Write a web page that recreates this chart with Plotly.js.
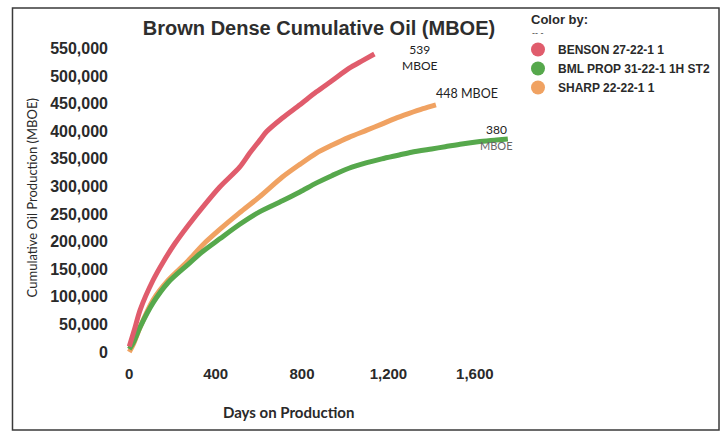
<!DOCTYPE html>
<html>
<head>
<meta charset="utf-8">
<script src="https://cdn.plot.ly/plotly-3.0.1.min.js"></script>
<style>
  html, body { margin: 0; padding: 0; background: #ffffff; }
  #chart { width: 727px; height: 433px; }
</style>
</head>
<body>
<div id="chart"></div>
<script>
// ---- Data ----
const wellNames = ["BENSON 27-22-1 1", "BML PROP 31-22-1 1H ST2", "SHARP 22-22-1 1"];

const bensonDays = [0, 25, 50, 110, 160, 212, 270, 341, 419, 511, 557, 603, 635, 709, 790, 865, 940, 1017, 1080, 1135];
const bensonOil  = [10000, 42000, 76000, 130000, 165000, 197000, 228000, 263000, 299000, 335000, 360000, 383000, 399000, 424000, 448000, 471000, 492000, 514000, 528000, 540000];

const bmlDays = [0, 20, 50, 110, 180, 267, 340, 419, 510, 603, 709, 790, 865, 940, 1017, 1100, 1169, 1250, 1307, 1400, 1463, 1540, 1615, 1700, 1753];
const bmlOil  = [5000, 18000, 45000, 89000, 126000, 157000, 182000, 205000, 231000, 254000, 274000, 290000, 306000, 320000, 333000, 343000, 350000, 357000, 362000, 368000, 372000, 377000, 381000, 384000, 386000];

const sharpDays = [0, 20, 50, 110, 180, 267, 340, 419, 510, 603, 709, 790, 865, 940, 1017, 1100, 1169, 1230, 1293, 1360, 1420];
const sharpOil  = [0, 15000, 45000, 94000, 130000, 163000, 194000, 222000, 252000, 281000, 317000, 340000, 360000, 375000, 389000, 402000, 413000, 423000, 432000, 441000, 448000];

const endLabels = ["539<br>MBOE", "448 MBOE", "380", "MBOE"];

const xTickVals = [0, 400, 800, 1200, 1600];
const yTickVals = [0, 50000, 100000, 150000, 200000, 250000, 300000, 350000, 400000, 450000, 500000, 550000];

const colors = ["#e05c6c", "#56a84c", "#f0a262"];

// ---- Traces ----
const series = [
  {x: bensonDays, y: bensonOil},
  {x: bmlDays, y: bmlOil},
  {x: sharpDays, y: sharpOil}
];

const traces = [];
// draw order: orange, green, red (red on top)
[2, 1, 0].forEach(i => {
  traces.push({
    type: "scatter", mode: "lines",
    x: series[i].x, y: series[i].y,
    line: {color: colors[i], width: 5, shape: "spline", smoothing: 0.8},
    name: wellNames[i], showlegend: false, hoverinfo: "x+y"
  });
});
// legend entries with circle markers
[0, 1, 2].forEach(i => {
  traces.push({
    type: "scatter", mode: "markers",
    x: [null], y: [null],
    marker: {color: colors[i], size: 14, symbol: "circle"},
    name: wellNames[i], showlegend: true
  });
});

// plot area in pixels: x 112..520, y 43..363
const px = v => (v - 112) / 408;
const py = v => (363 - v) / 320;

const layout = {
  width: 727, height: 433,
  margin: {l: 112, r: 207, t: 43, b: 70},
  paper_bgcolor: "#ffffff", plot_bgcolor: "#ffffff",
  showlegend: true,
  title: {
    text: "<b>Brown Dense Cumulative Oil (MBOE)</b>",
    font: {family: "Liberation Sans, Arial, sans-serif", size: 20, color: "#2e2e2e"},
    x: 319 / 727, xanchor: "center", y: 1 - 28 / 433, yanchor: "middle"
  },
  xaxis: {
    range: [-80, 1800],
    tickvals: xTickVals,
    ticktext: xTickVals.map(v => v.toLocaleString("en-US")),
    showgrid: false, zeroline: false, showline: false, ticks: "",
    tickfont: {family: "Liberation Sans, Arial, sans-serif", size: 15, color: "#2a2a2a", weight: "bold"}
  },
  yaxis: {
    range: [-20000, 560000],
    tickvals: yTickVals,
    ticktext: yTickVals.map(v => v.toLocaleString("en-US")),
    showgrid: false, zeroline: false, showline: false, ticks: "",
    ticklabelstandoff: 3,
    tickfont: {family: "Liberation Sans, Arial, sans-serif", size: 16, color: "#2a2a2a", weight: "bold"}
  },
  legend: {
    x: 1.0, xanchor: "left", y: py(35), yanchor: "top",
    font: {family: "Liberation Sans, Arial, sans-serif", size: 12, color: "#2a2a2a", weight: "bold"},
    bgcolor: "rgba(0,0,0,0)", itemwidth: 30, tracegroupgap: 0
  },
  annotations: [
    {x: px(289), y: py(412), xref: "paper", yref: "paper", text: "Days on Production",
     showarrow: false, xanchor: "center", yanchor: "middle",
     font: {family: "Lato, Open Sans, sans-serif", size: 15, color: "#2a2a2a", weight: "bold"}},
    {x: px(32), y: py(198), xref: "paper", yref: "paper", text: "Cumulative Oil Production (MBOE)",
     showarrow: false, xanchor: "center", yanchor: "middle", textangle: -90,
     font: {family: "Lato, Open Sans, sans-serif", size: 13, color: "#2a2a2a"}},
    {x: px(531), y: py(19), xref: "paper", yref: "paper", text: "<b>Color by:</b>",
     showarrow: false, xanchor: "left", yanchor: "middle",
     font: {family: "Liberation Sans, Arial, sans-serif", size: 13, color: "#2a2a2a"}},
    {x: px(532), y: py(33), xref: "paper", yref: "paper", text: "-- -",
     showarrow: false, xanchor: "left", yanchor: "middle",
     font: {family: "Liberation Sans, Arial, sans-serif", size: 9, color: "#444"}},
    {x: 1345, y: 534000, xref: "x", yref: "y", text: endLabels[0], showarrow: false,
     font: {family: "Lato, Open Sans, sans-serif", size: 12, color: "#222"}, align: "center"},
    {x: 1565, y: 468000, xref: "x", yref: "y", text: endLabels[1], showarrow: false,
     font: {family: "Lato, Open Sans, sans-serif", size: 12.5, color: "#222"}},
    {x: 1700, y: 404000, xref: "x", yref: "y", text: endLabels[2], showarrow: false,
     font: {family: "Lato, Open Sans, sans-serif", size: 12, color: "#222"}},
    {x: 1700, y: 374000, xref: "x", yref: "y", text: endLabels[3], showarrow: false,
     font: {family: "Lato, Open Sans, sans-serif", size: 11, color: "#666"}}
  ],
  shapes: [
    {type: "rect", xref: "paper", yref: "paper",
     x0: px(12), x1: px(722), y0: py(430), y1: py(8),
     line: {color: "#3a3a3a", width: 1.5}, fillcolor: "rgba(0,0,0,0)", layer: "below"}
  ]
};

Plotly.newPlot("chart", traces, layout, {displayModeBar: false, staticPlot: true});
</script>
</body>
</html>
